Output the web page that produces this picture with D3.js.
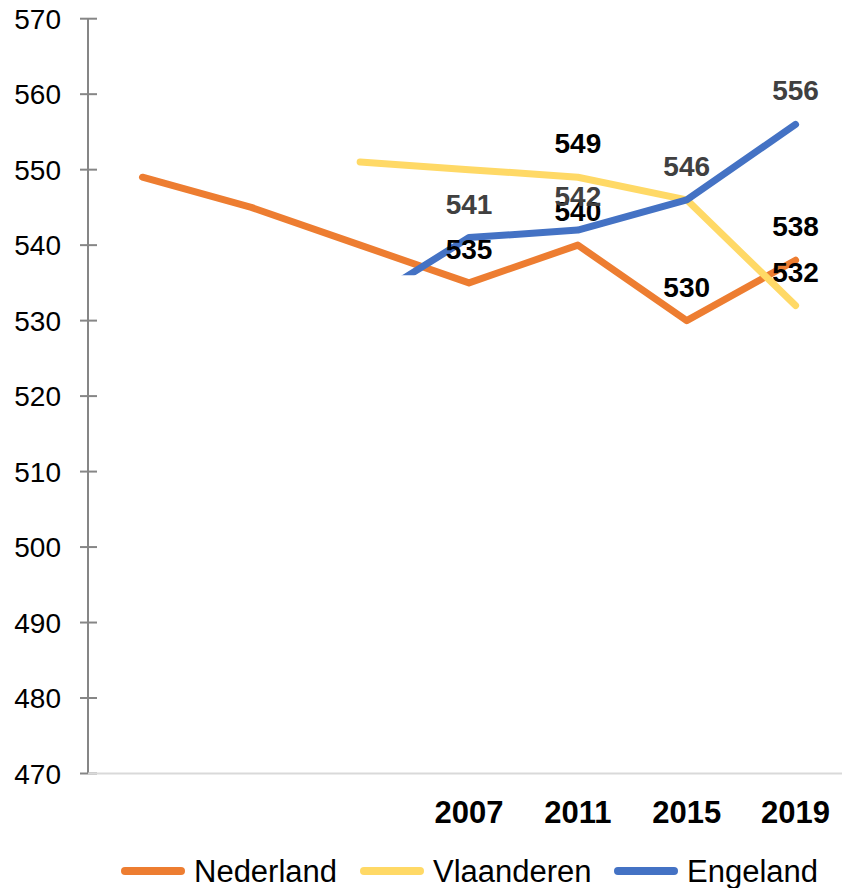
<!DOCTYPE html>
<html lang="nl">
<head>
<meta charset="UTF-8">
<script src="https://d3js.org/d3.v7.min.js"></script>
<style>
  body { margin: 0; background: #fff; font-family: Arial, "Liberation Sans", sans-serif; }
</style>
</head>
<body>
<svg id="chart" width="842" height="888"></svg>
<script>
// data
const tickLabels = ["", "", "", "2007", "2011", "2015", "2019"];
const nederland  = [549, 545, 540, 535, 540, 530, 538];
const vlaanderen = [null, null, 551, 550, 549, 546, 532];
const engeland   = [null, null, 532, 541, 542, 546, 556];
const engelandVisibleFrom = 536;   // the blue line is cut off below this value
const yTicks = [470, 480, 490, 500, 510, 520, 530, 540, 550, 560, 570];

const series = [
  { name: "Nederland",  values: nederland,  color: "#ED7D31", labelColor: "#000000", labelFrom: 3 },
  { name: "Vlaanderen", values: vlaanderen, color: "#FFD966", labelColor: "#000000", labelFrom: 4, skip: [5] },
  { name: "Engeland",   values: engeland,   color: "#4472C4", labelColor: "#404040", labelFrom: 3 }
];

const svg = d3.select("#chart");
const plotLeft = 88, plotRight = 850, plotTop = 18.7, plotBottom = 773.5;

const x = d3.scaleBand()
  .domain(d3.range(tickLabels.length))
  .range([plotLeft, plotRight]);

const y = d3.scaleLinear()
  .domain([470, 570])
  .range([plotBottom, plotTop]);

const cx = i => x(i) + x.bandwidth() / 2;

// y axis
const yAxis = svg.append("g");
yAxis.append("line")
  .attr("x1", plotLeft).attr("x2", plotLeft)
  .attr("y1", y(570)).attr("y2", y(470))
  .attr("stroke", "#868686").attr("stroke-width", 2);
yAxis.selectAll("line.tick")
  .data(yTicks)
  .enter().append("line")
  .attr("class", "tick")
  .attr("x1", plotLeft - 8).attr("x2", plotLeft + 9)
  .attr("y1", d => y(d)).attr("y2", d => y(d))
  .attr("stroke", "#868686").attr("stroke-width", 2);
yAxis.selectAll("text")
  .data(yTicks)
  .enter().append("text")
  .attr("x", 61)
  .attr("y", d => y(d) + 10)
  .attr("text-anchor", "end")
  .style("font-size", "28px")
  .attr("fill", "#000")
  .text(d => d);

// x axis
svg.append("line")
  .attr("x1", plotLeft).attr("x2", 842)
  .attr("y1", plotBottom).attr("y2", plotBottom)
  .attr("stroke", "#d9d9d9").attr("stroke-width", 2);

svg.append("g").selectAll("text")
  .data(tickLabels)
  .enter().append("text")
  .attr("x", (d, i) => cx(i))
  .attr("y", 823)
  .attr("text-anchor", "middle")
  .style("font-size", "31px")
  .style("font-weight", "bold")
  .text(d => d);

// clip for the blue line
svg.append("clipPath").attr("id", "clipEng")
  .append("rect")
  .attr("x", plotLeft).attr("width", plotRight - plotLeft)
  .attr("y", 0).attr("height", y(engelandVisibleFrom));

const line = d3.line()
  .defined(d => d != null)
  .x((d, i) => cx(i))
  .y(d => y(d));

series.forEach(s => {
  const path = svg.append("path")
    .datum(s.values)
    .attr("fill", "none")
    .attr("stroke", s.color)
    .attr("stroke-width", 7)
    .attr("stroke-linecap", "round")
    .attr("stroke-linejoin", "round")
    .attr("d", line);
  if (s.name === "Engeland") path.attr("clip-path", "url(#clipEng)");
});

// data labels
series.forEach(s => {
  const pts = s.values
    .map((v, i) => ({ v, i }))
    .filter(d => d.v != null && d.i >= s.labelFrom && !(s.skip || []).includes(d.i));
  svg.append("g").selectAll("text")
    .data(pts)
    .enter().append("text")
    .attr("x", d => cx(d.i))
    .attr("y", d => y(d.v) - 24)
    .attr("text-anchor", "middle")
    .style("font-size", "28px")
    .style("font-weight", "bold")
    .attr("fill", s.labelColor)
    .text(d => d.v);
});

// legend
const legendX = [125, 364, 618];
const legend = svg.append("g");
series.forEach((s, i) => {
  const g = legend.append("g").attr("transform", `translate(${legendX[i]},871)`);
  g.append("line")
    .attr("x1", 0).attr("x2", 56)
    .attr("stroke", s.color)
    .attr("stroke-width", 8)
    .attr("stroke-linecap", "round");
  g.append("text")
    .attr("x", 69)
    .attr("y", 11)
    .style("font-size", "31px")
    .text(s.name);
});
</script>
</body>
</html>
